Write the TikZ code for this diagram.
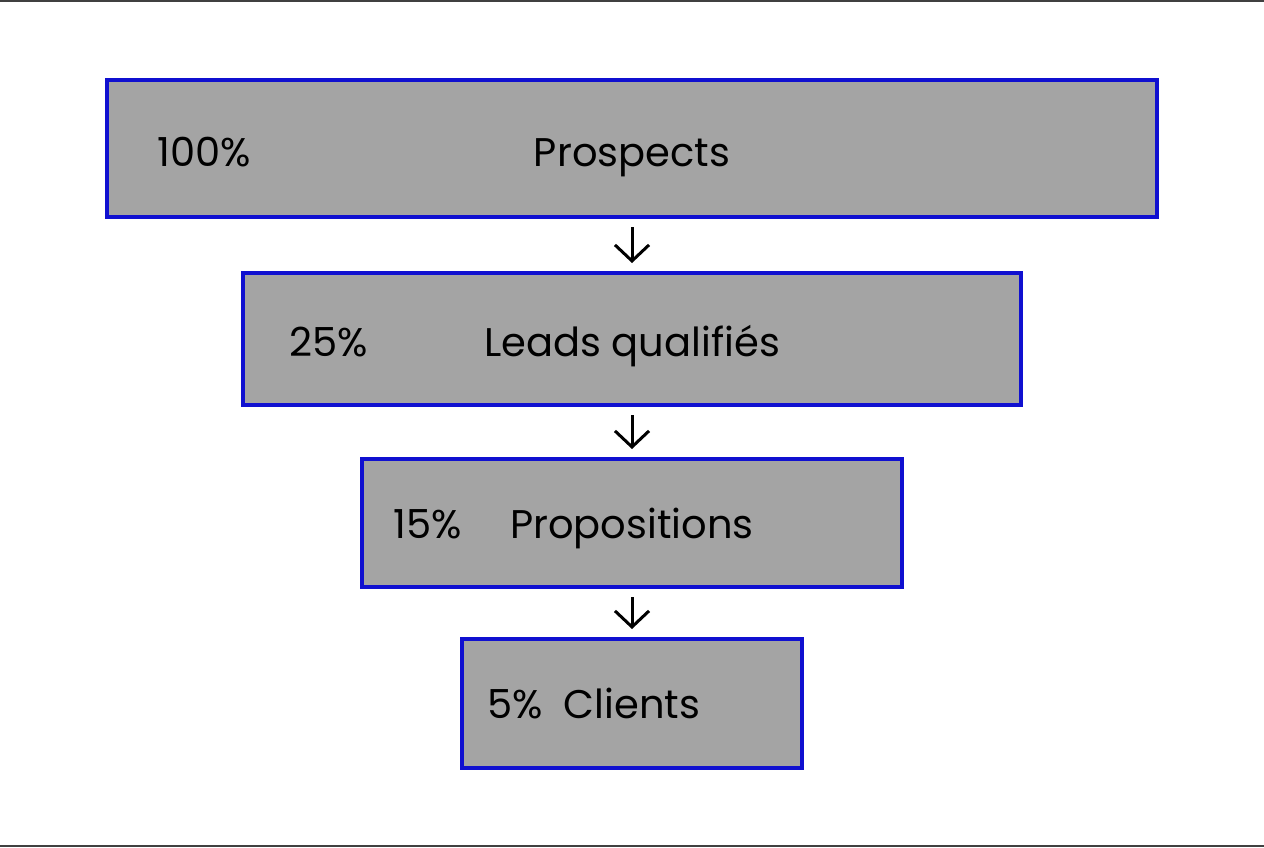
\documentclass[tikz,border=0pt]{standalone}
\usepackage{fontspec}
\setmainfont{Poppins}
\usetikzlibrary{arrows.meta}
\definecolor{boxblue}{HTML}{1010D0}
\definecolor{boxgray}{HTML}{A4A4A4}
\tikzset{
  stagebox/.style={draw=boxblue, line width=4pt, fill=boxgray, inner sep=0pt},
  pct/.style={anchor=base west, inner sep=0pt, font=\fontsize{40}{46}\selectfont},
  lbl/.style={anchor=base, inner sep=0pt, font=\fontsize{40}{46}\selectfont},
  flow/.style={-{Straight Barb[length=16pt,width=34pt,line width=3pt]}, line width=3pt, shorten <=8pt, shorten >=8pt},
  frame/.style={draw=black!75, line width=2pt}
}
\begin{document}
\begin{tikzpicture}[x=1pt,y=-1pt]
\useasboundingbox (0,0) rectangle (1264,848);
\draw[frame] (0,1) coordinate (tl) -- (1264,1) coordinate (tr);
\draw[frame] (0,846) coordinate (bl) -- (1264,846) coordinate (br);
\node[stagebox, minimum width=1050pt, minimum height=137pt] (b1) at (632,148.5) {};
\node[stagebox, minimum width=778pt, minimum height=132pt] (b2) at (632,339) {};
\node[stagebox, minimum width=540pt, minimum height=128pt] (b3) at (632,523) {};
\node[stagebox, minimum width=340pt, minimum height=129pt] (b4) at (632,703.5) {};
\node[pct] (p1) at (157,167) {100\%};
\node[lbl] (l1) at (632,167) {Prospects};
\node[pct] (p2) at (289,356) {25\%};
\node[lbl] (l2) at (632,356) {Leads qualifiés};
\node[pct] (p3) at (393,538) {15\%};
\node[lbl] (l3) at (632,538) {Propositions};
\node[pct] (p4) at (487,718) {5\%};
\node[lbl] (l4) at (632,718) {Clients};
\draw[flow] (b1.south) -- (b2.north);
\draw[flow] (b2.south) -- (b3.north);
\draw[flow] (b3.south) -- (b4.north);
\end{tikzpicture}
\end{document}
